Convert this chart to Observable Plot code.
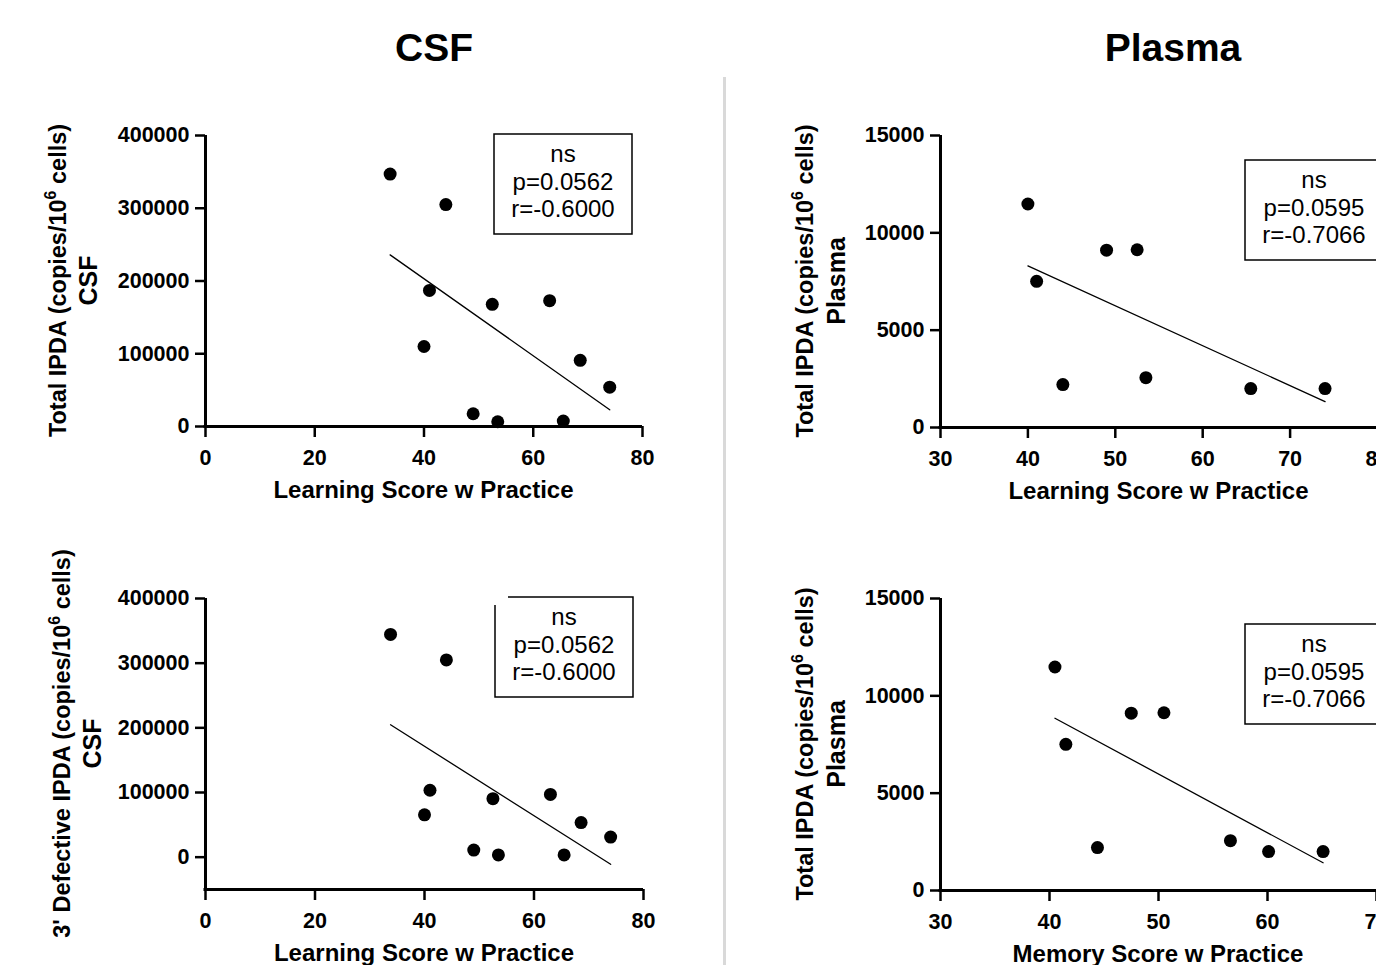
<!DOCTYPE html>
<html><head><meta charset="utf-8">
<script src="https://cdn.jsdelivr.net/npm/d3@7"></script>
<script src="https://cdn.jsdelivr.net/npm/@observablehq/plot@0.6"></script>
<style>
body{margin:0;background:#fff;}
#page{position:relative;width:1376px;height:965px;overflow:hidden;background:#fff;font-family:"Liberation Sans",Arial,sans-serif;}
.title{position:absolute;top:28px;font-size:39px;font-weight:bold;line-height:39px;text-align:center;width:300px;color:#000;z-index:3;}
.divider{position:absolute;left:723px;top:77px;width:3px;height:888px;background:#d9d9d9;z-index:3;}
.panel{position:absolute;z-index:1;}
</style></head><body><div id="page"></div>
<script>
// ---- data ----
const titles = ["CSF", "Plasma"];
const csfLearning = [33.8, 44.0, 41.0, 40.0, 52.5, 63.0, 68.6, 74.0, 49.0, 53.5, 65.5];
const csfTotal = [347000, 305000, 187000, 110000, 168000, 173000, 91000, 54000, 17500, 6500, 7500];
const csfDefective = [344500, 305000, 103500, 65500, 90500, 97000, 53500, 31000, 11000, 3500, 3500];
const plasmaLearning = [40.0, 41.0, 44.0, 49.0, 52.5, 53.5, 65.5, 74.0];
const plasmaMemory = [40.5, 41.5, 44.4, 47.5, 50.5, 56.6, 60.1, 65.1];
const plasmaTotal = [11480, 7510, 2205, 9110, 9130, 2560, 2000, 2000];
const csfTicksY = [0, 100000, 200000, 300000, 400000];
const csfTicksX = [0, 20, 40, 60, 80];
const plasmaTicksY = [0, 5000, 10000, 15000];
const plasmaTicksXLearning = [30, 40, 50, 60, 70, 80];
const plasmaTicksXMemory = [30, 40, 50, 60, 70];
const statsCSF = ["ns", "p=0.0562", "r=-0.6000"];
const statsPlasma = ["ns", "p=0.0595", "r=-0.7066"];

const page = document.getElementById("page");

function yLabelMark(pre, sup, post, line2, offs) {
  return (index, scales, values, dims) => {
    const {marginLeft, marginTop, height, marginBottom} = dims;
    const cy = marginTop + (height - marginTop - marginBottom) / 2;
    const g = d3.create("svg:g").attr("font-weight", "bold").attr("text-anchor", "middle").attr("fill", "black");
    const t1 = g.append("text").attr("transform", `translate(${marginLeft - offs[0]},${cy}) rotate(-90)`)
      .attr("dy", "0.36em").attr("font-size", 23.5);
    t1.append("tspan").text(pre);
    t1.append("tspan").attr("font-size", 16).attr("dy", -10).text(sup);
    t1.append("tspan").attr("dy", 10).text(post);
    g.append("text").attr("transform", `translate(${marginLeft - offs[1]},${cy}) rotate(-90)`)
      .attr("dy", "0.36em").attr("font-size", 25).text(line2);
    return g.node();
  };
}
function xLabelMark(label, off) {
  return (index, scales, values, dims) => {
    const {marginLeft, marginRight, width, height, marginBottom} = dims;
    const cx = marginLeft + (width - marginLeft - marginRight) / 2;
    return d3.create("svg:text").attr("x", cx).attr("y", height - marginBottom + off)
      .attr("text-anchor", "middle").attr("font-size", 24).attr("font-weight", "bold").text(label).node();
  };
}
function statsMark(lines, box) {
  return (index, scales, values, dims) => {
    const x0 = dims.marginLeft + box.dx, y0 = dims.marginTop + box.dy, w = 138, h = 100;
    const g = d3.create("svg:g");
    const d = box.gap ? `M${x0},${y0 + 8}V${y0 + h}H${x0 + w}V${y0}H${x0 + 13}` : `M${x0},${y0}H${x0 + w}V${y0 + h}H${x0}Z`;
    g.append("path").attr("d", d).attr("fill", "none").attr("stroke", "black").attr("stroke-width", 1.5);
    const t = g.append("text").attr("text-anchor", "middle").attr("font-size", 24).attr("font-weight", "normal");
    const base = [28, 56, 83];
    lines.forEach((s, i) => t.append("tspan").attr("x", x0 + w / 2).attr("y", y0 + base[i]).text(s));
    return g.node();
  };
}

const panels = [
  {left: 0, top: 100, width: 690, height: 420, m: [35, 48, 94, 205], xs: csfLearning, ys: csfTotal,
   xd: [0, 80], yd: [0, 400000], xt: csfTicksX, yt: csfTicksY, xl: "Learning Score w Practice",
   yl: ["Total IPDA (copies/10", "6", " cells)", "CSF"], lo: [147, 117], stats: statsCSF, box: {dx: 289, dy: -1}},
  {left: 700, top: 100, width: 760, height: 420, m: [35, 83, 93, 240], xs: plasmaLearning, ys: plasmaTotal,
   xd: [30, 80], yd: [0, 15000], xt: plasmaTicksXLearning, yt: plasmaTicksY, xl: "Learning Score w Practice",
   yl: ["Total IPDA (copies/10", "6", " cells)", "Plasma"], lo: [135, 104], stats: statsPlasma, box: {dx: 305, dy: 25}},
  {left: 0, top: 560, width: 690, height: 405, m: [38, 47, 76, 205], xs: csfLearning, ys: csfDefective,
   xd: [0, 80], yd: [-50000, 400000], xt: csfTicksX, yt: csfTicksY, xl: "Learning Score w Practice",
   yl: ["3' Defective IPDA (copies/10", "6", " cells)", "CSF"], lo: [143, 113], stats: statsCSF, box: {dx: 290, dy: -1, gap: true}},
  {left: 700, top: 560, width: 760, height: 405, m: [38, 84, 75, 240], xs: plasmaMemory, ys: plasmaTotal,
   xd: [30, 70], yd: [0, 15000], xt: plasmaTicksXMemory, yt: plasmaTicksY, xl: "Memory Score w Practice",
   yl: ["Total IPDA (copies/10", "6", " cells)", "Plasma"], lo: [135, 104], stats: statsPlasma, box: {dx: 305, dy: 26}}
];

panels.forEach(p => {
  const chart = Plot.plot({
    width: p.width, height: p.height,
    marginTop: p.m[0], marginRight: p.m[1], marginBottom: p.m[2], marginLeft: p.m[3],
    style: {fontFamily: "'Liberation Sans', Arial, sans-serif", fontSize: "21px", fontWeight: "bold", color: "black", background: "transparent", maxWidth: "none", overflow: "visible"},
    x: {domain: p.xd},
    y: {domain: p.yd},
    marks: [
      Plot.axisX(p.xt, {tickSize: 11, tickPadding: 12, strokeWidth: 2.5, fontSize: 21.5, fontWeight: "bold", tickFormat: d => String(d), label: null}),
      Plot.axisY(p.yt, {tickSize: 10, tickPadding: 6, strokeWidth: 2.5, fontSize: 21.5, fontWeight: "bold", tickFormat: d => String(d), label: null}),
      Plot.ruleX([p.xd[0]], {strokeWidth: 3, stroke: "black", insetBottom: -1.5}),
      Plot.ruleY([p.yd[0]], {strokeWidth: 3, stroke: "black", insetLeft: -1.5}),
      Plot.linearRegressionY(p.ys, {x: p.xs, y: p.ys, ci: 0, stroke: "black", strokeWidth: 1.3}),
      Plot.dot(p.ys, {x: p.xs, y: p.ys, r: 6.5, fill: "black", stroke: null}),
      yLabelMark(p.yl[0], p.yl[1], p.yl[2], p.yl[3], p.lo),
      xLabelMark(p.xl, 72),
      statsMark(p.stats, p.box)
    ]
  });
  const wrap = document.createElement("div");
  wrap.className = "panel";
  wrap.style.left = p.left + "px"; wrap.style.top = p.top + "px";
  wrap.appendChild(chart);
  page.appendChild(wrap);
});

titles.forEach((t, i) => {
  const d = document.createElement("div");
  d.className = "title"; d.textContent = t;
  d.style.left = (i === 0 ? 284 : 1023) + "px";
  page.appendChild(d);
});
const divider = document.createElement("div"); divider.className = "divider"; page.appendChild(divider);
</script></body></html>
